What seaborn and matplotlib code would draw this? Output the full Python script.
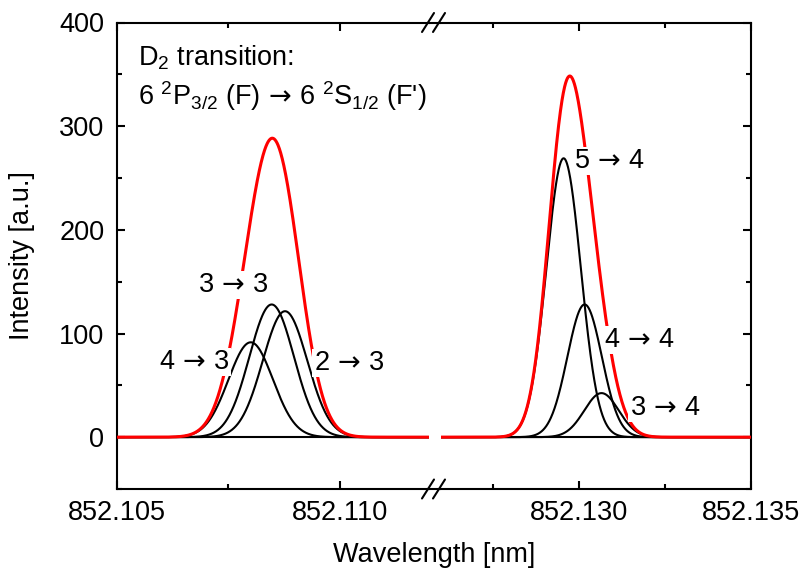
import numpy as np
import pandas as pd
import matplotlib
matplotlib.use("Agg")
import matplotlib.pyplot as plt
import seaborn as sns
from matplotlib.lines import Line2D
from matplotlib.ticker import FixedLocator

# Hyperfine components of the Cs D2 line, Gaussian fit parameters
low_labels = ["4 → 3", "3 → 3", "2 → 3"]
low_centers = [852.10800, 852.10847, 852.10877]     # nm
low_heights = [91.5, 128.0, 121.5]                  # a.u.

high_labels = ["5 → 4", "4 → 4", "3 → 4"]
high_centers = [852.12956, 852.13017, 852.13066]    # nm
high_heights = [269.0, 128.0, 42.5]                 # a.u.

doppler_sigma = 0.00050  # nm, common Gaussian width of all components

left_range = (852.105, 852.112)
right_range = (852.126, 852.135)
left_major = [852.105, 852.110]
left_minor = [852.1075]
right_major = [852.130, 852.135]
right_minor = [852.1275, 852.1325]
y_major = [0, 100, 200, 300, 400]
y_minor = [-50, 50, 150, 250, 350]

# mathtext arrow with a thin space on each side
ARROW = r"$\,\mathsf{\rightarrow}\,$"


def build_profiles(labels, centers, heights, lo, hi):
    wl = np.linspace(lo, hi, 1200)
    parts = []
    for lab, c, h in zip(labels, centers, heights):
        parts.append(pd.DataFrame({
            "wavelength": wl,
            "intensity": h * np.exp(-0.5 * ((wl - c) / doppler_sigma) ** 2),
            "line": lab,
        }))
    comp = pd.concat(parts, ignore_index=True)
    total = comp.groupby("wavelength", as_index=False)["intensity"].sum()
    return comp, total


sns.set_theme(style="ticks")
plt.rcParams["font.family"] = ["Liberation Sans", "DejaVu Sans"]
plt.rcParams.update({
    "mathtext.fontset": "custom",
    "mathtext.rm": "Liberation Sans",
    "mathtext.it": "Liberation Sans:italic",
    "mathtext.bf": "Liberation Sans:bold",
    "mathtext.sf": "DejaVu Sans",
    "mathtext.default": "regular",
    "text.color": "black",
    "axes.labelcolor": "black",
    "xtick.color": "black",
    "ytick.color": "black",
})

FS = 19.5
W, H = 803, 569
fig = plt.figure(figsize=(W / 100, H / 100), dpi=100)

ax_top_px, ax_bot_px = 22.5, 489.0
left_px = (117, 429)
right_px = (441, 751)
y0 = 1 - ax_bot_px / H
hgt = (ax_bot_px - ax_top_px) / H
axL = fig.add_axes([left_px[0] / W, y0, (left_px[1] - left_px[0]) / W, hgt])
axR = fig.add_axes([right_px[0] / W, y0, (right_px[1] - right_px[0]) / W, hgt])

line_w = 1.5
for ax, rng, labels, centers, heights in (
    (axL, left_range, low_labels, low_centers, low_heights),
    (axR, right_range, high_labels, high_centers, high_heights),
):
    comp, total = build_profiles(labels, centers, heights, *rng)
    ax.axhline(0, color="black", lw=line_w, zorder=1)
    sns.lineplot(data=comp, x="wavelength", y="intensity", units="line",
                 estimator=None, color="black", lw=1.5, ax=ax, zorder=2)
    sns.lineplot(data=total, x="wavelength", y="intensity",
                 color="red", lw=2.2, ax=ax, zorder=3)
    ax.set_xlim(*rng)
    ax.set_ylim(-50, 400)
    ax.set_xlabel("")
    ax.set_ylabel("")
    for s in ax.spines.values():
        s.set_linewidth(line_w)
        s.set_color("black")
    ax.tick_params(axis="both", which="both", direction="in", width=line_w,
                   colors="black", labelsize=FS, top=True, bottom=True)
    ax.tick_params(which="major", length=5.8)
    ax.tick_params(which="minor", length=3.6)
    ax.tick_params(axis="x", pad=8)
    ax.tick_params(axis="y", pad=9)
    ax.yaxis.set_major_locator(FixedLocator(y_major))
    ax.yaxis.set_minor_locator(FixedLocator(y_minor))

axL.spines["right"].set_visible(False)
axR.spines["left"].set_visible(False)
axL.tick_params(axis="y", which="both", left=True, right=False)
axR.tick_params(axis="y", which="both", left=False, right=True,
                labelleft=False, labelright=False)
axL.xaxis.set_major_locator(FixedLocator(left_major))
axL.xaxis.set_minor_locator(FixedLocator(left_minor))
axR.xaxis.set_major_locator(FixedLocator(right_major))
axR.xaxis.set_minor_locator(FixedLocator(right_minor))
axL.set_xticklabels([f"{v:.3f}" for v in left_major])
axR.set_xticklabels([f"{v:.3f}" for v in right_major])
axL.set_yticklabels([str(v) for v in y_major])

# Transition labels with a white backing so they interrupt the envelope
box = dict(facecolor="white", edgecolor="none", pad=1.0)
label_pos_left = {"4 → 3": (852.10673, 72.5), "3 → 3": (852.10760, 146.8),
                  "2 → 3": (852.11020, 71.6)}
label_pos_right = {"5 → 4": (852.13090, 266.4), "4 → 4": (852.13177, 93.8),
                   "3 → 4": (852.13250, 28.2)}
for ax, pos in ((axL, label_pos_left), (axR, label_pos_right)):
    for lab, (x, y) in pos.items():
        ax.text(x, y, lab.replace(" → ", ARROW), fontsize=FS, ha="center",
                va="center", bbox=box, zorder=5)

axL.text(0.067, (ax_bot_px - 65) / (ax_bot_px - ax_top_px), r"D$_2$ transition:",
         transform=axL.transAxes, fontsize=FS, ha="left", va="baseline")
axL.text(0.067, (ax_bot_px - 105) / (ax_bot_px - ax_top_px),
         r"6 $^2$P$_{3/2}$ (F)" + ARROW + r"6 $^2$S$_{1/2}$ (F')",
         transform=axL.transAxes, fontsize=FS, ha="left", va="baseline")

fig.text(22 / W, 1 - 256 / H, "Intensity [a.u.]", rotation=90,
         ha="center", va="center", fontsize=FS)
fig.text(434 / W, 1 - 555 / H, "Wavelength [nm]", ha="center", va="center",
         fontsize=FS)

# Axis break: bridge the frame and draw the double slashes
for ypx in (ax_top_px, ax_bot_px):
    fy = 1 - ypx / H
    fig.add_artist(Line2D([left_px[1] / W, right_px[0] / W], [fy, fy],
                          transform=fig.transFigure, color="black", lw=line_w))
    for xc in (428, 439):
        fig.add_artist(Line2D([(xc - 6) / W, (xc + 6) / W],
                              [1 - (ypx + 9.5) / H, 1 - (ypx - 9.5) / H],
                              transform=fig.transFigure, color="black",
                              lw=line_w))

fig.savefig("out.png", dpi=100)
